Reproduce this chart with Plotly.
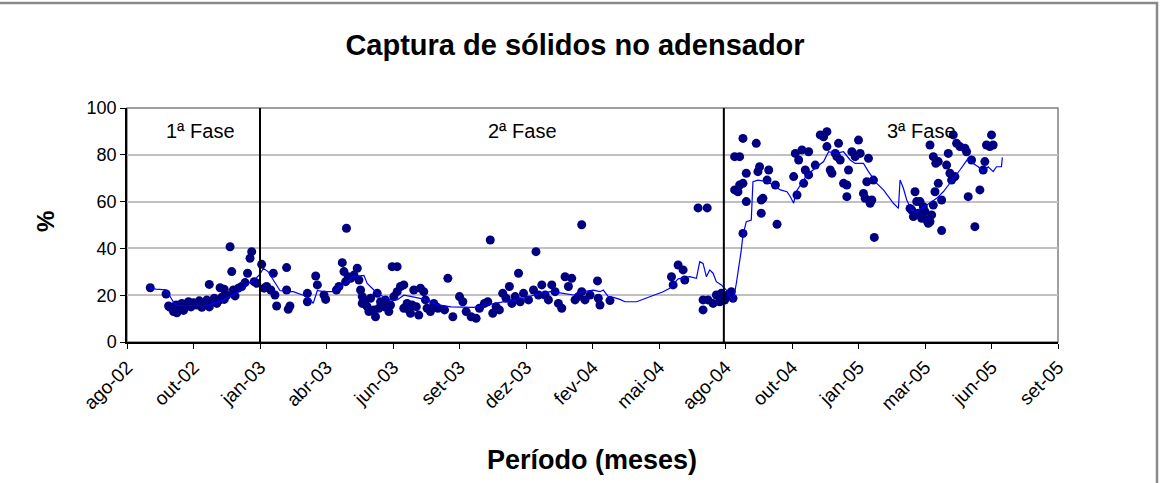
import pandas as pd
import plotly.graph_objects as go

BASE = "2002-08-12"

tick_labels = ["ago-02", "out-02", "jan-03", "abr-03", "jun-03", "set-03", "dez-03",
               "fev-04", "mai-04", "ago-04", "out-04", "jan-05", "mar-05", "jun-05", "set-05"]
tick_step_days = 80

phase_names = ["1ª Fase", "2ª Fase", "3ª Fase"]
phase_label_day = [89, 476, 956]
phase_bound_day = [160, 718]

# measured points: day offset from BASE, % captura
point_day = [
    28, 47, 50, 52, 56, 59, 60, 63, 66, 68, 70, 74, 77, 80, 84, 87, 90, 93, 96, 99, 99, 102, 105, 108,
    111, 112, 114, 117, 117, 120, 124, 126, 128, 130, 134, 138, 142, 145, 148, 150, 153, 156, 162,
    165, 168, 173, 176, 178, 180, 192, 192, 194, 196, 217, 217, 227, 229, 237, 239, 252, 255, 259,
    261, 263, 264, 266, 269, 273, 277, 279, 281, 283, 283, 286, 289, 291, 293, 297, 299, 301, 303,
    305, 309, 311, 315, 317, 319, 321, 325, 325, 329, 333, 333, 337, 339, 341, 343, 345, 348, 351,
    353, 357, 359, 361, 365, 369, 372,
    374, 382, 386, 392, 400, 404, 408, 414, 420, 424, 430, 434, 437, 440, 444, 448, 452, 456, 460,
    463, 467, 471, 473, 477, 483, 489, 492, 495, 499, 503, 507, 511, 515, 519, 523, 527, 531, 535,
    539, 543, 547, 547, 551, 557, 566, 567, 569, 581, 655, 657, 663, 669, 671, 687, 698, 693, 693,
    699, 705, 709, 713, 717, 715, 719, 723, 727, 729,
    731, 735, 737, 731, 737, 741, 741, 741, 745, 745, 757, 759, 761, 763, 763, 765, 770, 772, 780,
    782, 802, 804, 806, 808, 812, 814, 816, 820, 820, 828, 834, 838, 842, 842, 846, 848, 852, 854,
    856, 858, 862, 866, 866, 868, 872, 876, 880, 882, 886, 888, 890, 892, 894, 896, 898, 899,
    942, 944, 946, 948, 950, 952, 954, 956, 958, 960, 962, 964, 966, 966, 968, 970, 970, 972, 973,
    976, 976, 980, 980, 986, 988, 990, 992, 994, 996, 998, 1002, 1008, 1010, 1012, 1016, 1020,
    1026, 1030, 1032, 1034, 1038, 1040, 1042,
]
point_pct = [
    23.2, 20.5, 15.4, 14.8, 13.0, 15.8, 12.5, 14.0, 16.5, 13.5, 14.8, 17.2, 15.0, 16.8, 15.8, 17.6,
    14.8, 16.5, 17.9, 15.0, 24.6, 17.2, 18.7, 16.5, 17.9, 23.2, 19.1, 18.2, 22.5, 20.1, 40.7, 30.1,
    22.2, 19.7, 23.0, 23.7, 25.4, 29.4, 35.8, 38.6, 25.8, 25.1, 33.2,
    23.0, 23.7, 22.2, 29.4, 20.1, 15.4, 31.8, 22.2, 14.0, 15.4, 20.8, 17.2, 28.2, 24.4, 20.1, 18.2,
    22.2, 23.7, 33.9, 30.1, 25.8, 48.6, 27.9, 27.2, 28.6, 31.5, 26.5, 22.2, 19.4, 16.5, 17.2, 15.1,
    13.0, 18.7, 13.7, 10.8, 20.8, 14.4, 17.2, 15.1, 17.9, 13.0, 15.8, 32.2, 19.4, 32.2, 21.5, 23.7,
    24.4, 14.4, 16.5, 13.7, 12.3, 15.8, 22.2, 15.1, 11.5, 23.0, 21.5, 18.0, 14.4, 13.0, 16.5, 15.1,
    14.4, 13.7, 27.2, 10.8, 19.4, 17.2, 13.0, 10.8, 10.1, 14.4, 16.5, 17.2, 43.6, 12.3, 15.1, 13.7,
    20.8, 18.7, 23.7, 16.5, 19.4, 29.4, 17.2, 20.8, 18.0, 22.2, 38.6, 20.1, 24.4, 20.1, 18.0, 24.4,
    21.5, 16.5, 14.4, 27.9, 23.7, 27.2, 18.0, 19.4, 50.1, 21.5, 18.0, 20.1, 26.1, 18.7, 15.8, 17.7,
    27.9, 24.4, 32.9, 30.8, 26.5, 57.3, 57.3, 18.0, 13.7, 18.0, 16.5, 20.1, 17.2, 18.0, 20.8, 17.9,
    20.1, 21.5, 18.7,
    65.0, 64.2, 67.1, 79.2, 79.2, 87.0, 46.4, 67.8, 72.1, 60.0, 84.9, 72.8, 74.9, 60.7, 55.0, 61.4,
    69.2, 73.5, 67.1, 50.3, 70.7, 80.6, 62.8, 77.8, 82.1, 67.8, 73.5, 71.4, 81.3, 75.6, 88.5, 87.7,
    89.9, 83.5, 73.5, 72.1, 80.6, 79.2, 84.9, 77.8, 67.8, 67.1, 62.1, 73.5, 81.3, 79.2, 86.3, 80.6,
    63.5, 61.4, 68.5, 78.5, 59.3, 60.7, 69.2, 44.7,
    57.1, 56.4, 53.6, 64.2, 60.0, 55.0, 60.0, 52.9, 57.8, 55.7, 52.1, 50.7, 51.4, 84.2, 54.3, 58.5,
    79.2, 64.2, 76.4, 67.8, 77.1, 60.7, 47.6, 75.6, 80.6, 72.1, 69.2, 88.5, 70.7, 84.9, 83.5, 82.8,
    81.3, 62.1, 77.8, 49.3, 65.0, 73.5, 77.1, 84.2, 83.5, 88.5, 84.2,
]

# moving-average line
line_day = [
    28, 35, 47, 52, 56, 60, 80, 92, 100, 116, 124, 132, 140, 146, 154, 160, 164, 170, 176, 184, 192,
    200, 212, 220, 224, 229, 236, 248, 256, 265, 272, 280, 285, 289, 297, 305, 317, 325, 333, 341,
    353, 361, 373, 390, 417, 433, 453, 477, 497, 509, 525, 537, 549, 561, 569, 573, 579, 585, 593,
    599, 613, 629, 645, 653, 663, 677, 685, 689, 693, 697, 701, 705, 709, 715,
    721, 729, 733, 739, 741, 745, 751, 753, 759, 770, 778, 786, 794, 798, 802, 805, 810, 818, 830,
    838, 844, 852, 862, 870, 876, 886, 892, 902, 910, 916, 922, 928, 930, 934, 938, 944, 950, 956,
    966, 974, 982, 990, 996, 1002, 1012, 1018, 1024, 1030, 1036, 1042, 1046, 1052, 1053,
]
line_pct = [
    23, 22.6, 22.3, 19, 17, 15.5, 15.4, 15.6, 16, 18, 19.5, 21, 23, 25, 26.8, 29, 31.5, 30, 26.5, 22,
    21.5, 21.5, 20, 18.5, 16.5, 22, 21.5, 21.5, 23.5, 25.8, 28, 28.5, 28.5, 25, 22.2, 20, 18, 18, 20,
    19.5, 18.7, 18, 16, 15, 14.8, 15.8, 17.2, 18.7, 20.8, 21.5, 20.8, 20.1, 21.5, 22.2, 21.5, 22.2,
    19.4, 19.1, 18.2, 17.2, 17.2, 19.4, 21.5, 23, 27, 27.9, 27.2, 34.3, 33.6, 27.9, 30.8, 29.4, 25.8,
    24.4,
    22.2, 17.2, 25, 39.3, 45.7, 51.4, 52.1, 68.5, 69.2, 68.5, 67, 65, 64.2, 62.1, 59.3, 64.2, 67.1,
    71.4, 74.9, 77.1, 81.3, 80.6, 81.3, 77.8, 76.3, 76.3, 72.8, 67.8, 65, 62.1, 59.3, 57.1, 69.2,
    65.7, 60.7, 56.4, 55.7, 57.1, 59.3, 61.4, 64.2, 67.8, 70.7, 73.5, 78.5, 76.3, 74.9, 72.8, 74.9,
    72.8, 74.9, 74.9, 78.9,
]

base = pd.Timestamp(BASE)
to_date = lambda days: base + pd.to_timedelta(days, unit="D")

px_x = to_date(point_day)
ln_x = to_date(line_day)
tick_vals = [to_date(i * tick_step_days) for i in range(len(tick_labels))]
x_end = tick_vals[-1]

FONT = "Liberation Sans, Arial, sans-serif"

fig = go.Figure()
fig.add_trace(go.Scatter(x=px_x, y=point_pct, mode="markers",
                         marker=dict(color="#000080", size=9, line=dict(width=0)),
                         showlegend=False, hoverinfo="x+y"))
fig.add_trace(go.Scatter(x=ln_x, y=line_pct, mode="lines",
                         line=dict(color="#0000FF", width=1.2),
                         showlegend=False, hoverinfo="x+y"))

shapes = []
# plot area border (gray)
shapes.append(dict(type="rect", xref="paper", yref="paper", x0=0, x1=1, y0=0, y1=1,
                   line=dict(color="#808080", width=1.5), layer="below"))
# outer chart border
shapes.append(dict(type="rect", xref="paper", yref="paper",
                   x0=-0.2, x1=(1157 - 127) / 931, y0=-0.7, y1=1 + 105 / 234,
                   line=dict(color="#8a8a8a", width=2.5), layer="below"))
for d in phase_bound_day:
    shapes.append(dict(type="line", xref="x", yref="paper", x0=to_date(d), x1=to_date(d),
                       y0=0, y1=1, line=dict(color="#000000", width=2)))

annotations = []
for name, d in zip(phase_names, phase_label_day):
    annotations.append(dict(x=to_date(d), y=90, xref="x", yref="y", text=name, showarrow=False,
                            font=dict(family=FONT, size=20, color="#000000")))
annotations.append(dict(x=(592 - 127) / 931, y=(342 - 460) / 234, xref="paper", yref="paper",
                        xanchor="center", yanchor="middle",
                        text="<b>Período (meses)</b>", showarrow=False,
                        font=dict(family=FONT, size=27, color="#000000")))
annotations.append(dict(x=(45 - 127) / 931, y=(342 - 222) / 234, xref="paper", yref="paper",
                        xanchor="center", yanchor="middle",
                        text="<b>%</b>", textangle=-90, showarrow=False,
                        font=dict(family=FONT, size=24, color="#000000")))

fig.update_layout(
    width=1166, height=483,
    margin=dict(l=127, r=108, t=108, b=141),
    paper_bgcolor="white", plot_bgcolor="white",
    title=dict(text="<b>Captura de sólidos no adensador</b>", x=575 / 1166, xanchor="center",
               y=1 - 45 / 483, yanchor="middle", yref="container",
               font=dict(family=FONT, size=29, color="#000000")),
    xaxis=dict(type="date", range=[base, x_end], tickvals=tick_vals, ticktext=tick_labels,
               tickangle=-45, ticks="outside", ticklen=5, tickcolor="#000000",
               showline=True, linecolor="#000000", linewidth=1.5, showgrid=False, zeroline=False,
               tickfont=dict(family=FONT, size=19, color="#000000")),
    yaxis=dict(range=[0, 100], dtick=20, ticks="outside", ticklen=5, tickcolor="#000000",
               showline=True, linecolor="#000000", linewidth=1.5,
               showgrid=True, gridcolor="#c0c0c0", gridwidth=1.5, zeroline=False,
               tickfont=dict(family=FONT, size=18, color="#000000")),
    shapes=shapes, annotations=annotations,
)

fig.write_html("out.html")
